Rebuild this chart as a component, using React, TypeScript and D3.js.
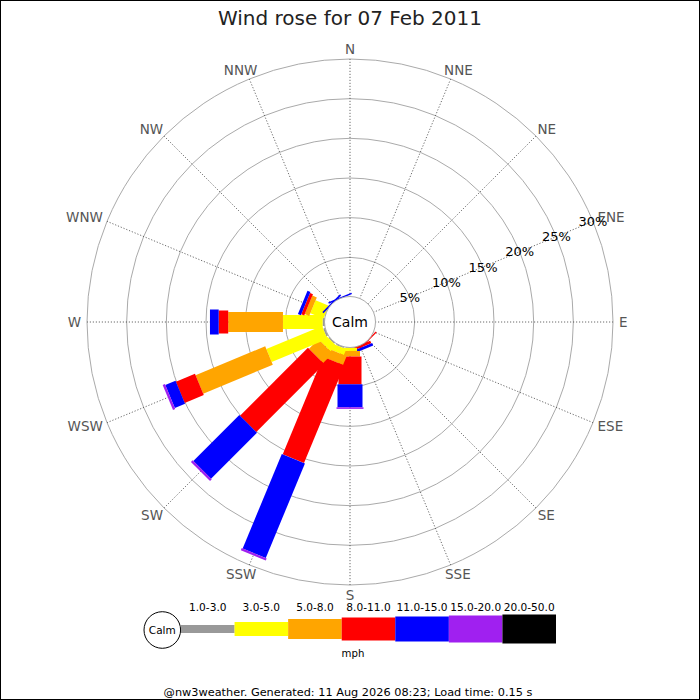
import React from 'react';
import * as d3 from 'd3';

// wind directions, clockwise from north
const directions = ['N', 'NNE', 'NE', 'ENE', 'E', 'ESE', 'SE', 'SSE', 'S', 'SSW', 'SW', 'WSW', 'W', 'WNW', 'NW', 'NNW'];
const speedBands = ['1.0-3.0', '3.0-5.0', '5.0-8.0', '8.0-11.0', '11.0-15.0', '15.0-20.0', '20.0-50.0'];

// % of the day in each speed band, per direction (not cumulative)
const band1to3 = [0, 0, 0, 0, 0, 0, 0, 0, 0.1, 0.2, 0.2, 0.3, 0.3, 0.1, 0, 0];
const band3to5 = [0, 0, 0, 0, 0, 0, 0, 0, 0.4, 0.8, 1.0, 7.6, 5.0, 1.8, 0, 0];
const band5to8 = [0, 0, 0, 0, 0, 0, 0, 0, 0.7, 1.2, 1.7, 9.5, 6.9, 0.6, 0, 0];
const band8to11 = [0, 0, 0, 0, 0, 0, 0.15, 0.35, 3.5, 13.3, 12.1, 2.6, 1.2, 0.4, 0, 0];
const band11to15 = [0, 0, 0, 0, 0, 0, 0, 0.35, 2.9, 12.9, 8.2, 1.4, 1.1, 0.4, 0.2, 0.2];
const band15to20 = [0, 0, 0, 0, 0, 0, 0, 0, 0.2, 0.3, 0.3, 0.3, 0, 0, 0, 0];
const band20to50 = [0, 0, 0, 0, 0, 0, 0, 0, 0, 0, 0, 0, 0, 0, 0, 0];

const ringTicks = [5, 10, 15, 20, 25, 30];
const titleText = 'Wind rose for 07 Feb 2011';
const footerText = '@nw3weather. Generated: 11 Aug 2026 08:23; Load time: 0.15 s';

const bandColors = ['#999999', '#ffff00', '#ffa500', '#ff0000', '#0000ff', '#a020f0', '#000000'];
const bandWidths = [8, 14, 20, 23, 25, 27, 29];

const W = 700;
const H = 700;
const cx = 350;
const cy = 322;
const r0 = 25;
const R = 263;
const font = 'DejaVu Sans, Verdana, sans-serif';

const charW: Record<string, number> = { N: 0.748, E: 0.632, S: 0.635, W: 0.989 };

const App: React.FC = () => {
    const allBands = [band1to3, band3to5, band5to8, band8to11, band11to15, band15to20, band20to50];
    const rows = directions.map((d, i) => {
        const row: Record<string, any> = { dir: d };
        speedBands.forEach((b, k) => { row[b] = allBands[k][i]; });
        return row;
    });
    const stacked = d3.stack<Record<string, any>>().keys(speedBands)(rows);

    const r = d3.scaleLinear().domain([0, 30]).range([r0, R]);
    const angle = d3.scalePoint<string>().domain(directions).range([0, 360 - 360 / directions.length]);

    const legendX = d3.scaleBand<string>().domain(speedBands).range([181, 556]);
    const legendY = 629;

    const dirLabelSize = 13.5;
    const labelR = 269;

    return (
        <div style={{ position: 'absolute', left: 0, top: 0 }}>
            <svg width={W} height={H} style={{ display: 'block', background: '#fff' }} fontFamily={font}>
                <rect x={0.5} y={0.5} width={W - 1} height={H - 1} fill="#fff" stroke="#000" strokeWidth={1} />
                <text x={cx} y={25} textAnchor="middle" fontSize={20} fill="#222">{titleText}</text>

                {/* rings */}
                {ringTicks.map(t => (
                    <circle key={t} cx={cx} cy={cy} r={r(t)} fill="none" stroke="#aaa" strokeWidth={1} />
                ))}

                {/* spokes */}
                {directions.map(d => {
                    const a = (angle(d)! * Math.PI) / 180;
                    return (
                        <line key={d}
                            x1={cx + r0 * Math.sin(a)} y1={cy - r0 * Math.cos(a)}
                            x2={cx + R * Math.sin(a)} y2={cy - R * Math.cos(a)}
                            stroke="#444" strokeWidth={0.8} strokeDasharray="1.2,1.8" />
                    );
                })}

                {/* bars, one direction at a time */}
                {directions.map((d, i) => (
                    <g key={d} transform={`translate(${cx},${cy}) rotate(${angle(d)})`}>
                        {stacked.map((s, k) => {
                            const [v0, v1] = s[i];
                            if (v1 - v0 <= 0) return null;
                            return (
                                <rect key={k}
                                    x={-bandWidths[k] / 2} y={-r(v1)}
                                    width={bandWidths[k]} height={r(v1) - r(v0)}
                                    fill={bandColors[k]} />
                            );
                        })}
                    </g>
                ))}

                {/* calm circle */}
                <circle cx={cx} cy={cy} r={r0 + 0.5} fill="#fff" stroke="#aaa" strokeWidth={1} />
                <text x={cx} y={cy} dy="0.36em" textAnchor="middle" fontSize={14} fill="#000">Calm</text>

                {/* direction labels */}
                {directions.map(d => {
                    const a = (angle(d)! * Math.PI) / 180;
                    const halfW = (d.split('').reduce((s, c) => s + charW[c], 0) * dirLabelSize) / 2;
                    const x = cx + (labelR + halfW) * Math.sin(a);
                    const y = cy - (labelR + 4) * Math.cos(a);
                    return (
                        <text key={d} x={x} y={y}
                            dy="0.36em" textAnchor="middle" fontSize={dirLabelSize} fill="#555">{d}</text>
                    );
                })}

                {/* ring labels along ENE */}
                {ringTicks.map(t => {
                    const a = (angle('ENE')! * Math.PI) / 180;
                    return (
                        <text key={t} x={cx + r(t) * Math.sin(a)} y={cy - r(t) * Math.cos(a)}
                            dy="0.36em" textAnchor="middle" fontSize={13} fill="#000">{t}%</text>
                    );
                })}

                {/* legend */}
                <circle cx={162.3} cy={630} r={18.3} fill="#fff" stroke="#000" strokeWidth={1} />
                <text x={162.3} y={630} dy="0.36em" textAnchor="middle" fontSize={10.5} fill="#000">Calm</text>
                {speedBands.map((b, k) => (
                    <g key={b}>
                        <rect x={legendX(b)!} y={legendY - bandWidths[k] / 2}
                            width={legendX.bandwidth()} height={bandWidths[k]} fill={bandColors[k]} />
                        <text x={legendX(b)! + legendX.bandwidth() / 2} y={611}
                            textAnchor="middle" fontSize={10.6} fill="#000">{b}</text>
                    </g>
                ))}
                <text x={353} y={657} textAnchor="middle" fontSize={10.2} fill="#000">mph</text>

                <text x={348} y={696} textAnchor="middle" fontSize={11.3} fill="#000">{footerText}</text>
            </svg>
        </div>
    );
};

export default App;
